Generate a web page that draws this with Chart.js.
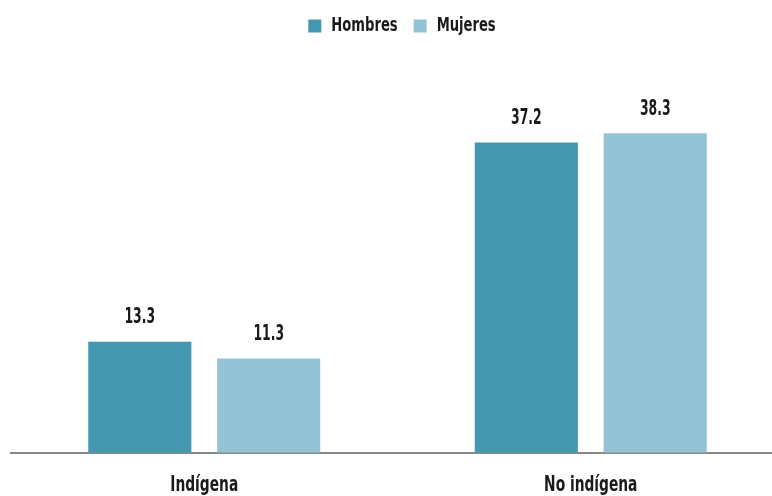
<!DOCTYPE html>
<html>
<head>
<meta charset="utf-8">
<script src="https://cdn.jsdelivr.net/npm/chart.js@4"></script>
<style>
html,body{margin:0;padding:0;background:#fff;overflow:hidden;width:772px;height:496px;}
#wrap{position:absolute;left:0;top:0;width:804px;height:518px;}
</style>
</head>
<body>
<div id="wrap"><canvas id="c" width="804" height="518"></canvas></div>
<script>
const categories = ["Indígena", "No indígena"];
const seriesNames = ["Hombres", "Mujeres"];
const hombres = [13.3, 37.2];
const mujeres = [11.3, 38.3];

const FONT = "'DejaVu Sans Condensed', 'DejaVu Sans', sans-serif";
const SX = 0.73; // horizontal condensing of all text

// condense text horizontally (keeps measurements consistent)
(function () {
  const P = CanvasRenderingContext2D.prototype;
  const of = P.fillText, om = P.measureText;
  P.fillText = function (t, x, y) {
    this.save(); this.translate(x, y); this.scale(SX, 1); of.call(this, t, 0, 0); this.restore();
  };
  P.measureText = function (t) {
    const m = om.call(this, t);
    return {
      width: m.width * SX,
      actualBoundingBoxAscent: m.actualBoundingBoxAscent,
      actualBoundingBoxDescent: m.actualBoundingBoxDescent,
      actualBoundingBoxLeft: m.actualBoundingBoxLeft * SX,
      actualBoundingBoxRight: m.actualBoundingBoxRight * SX,
      fontBoundingBoxAscent: m.fontBoundingBoxAscent,
      fontBoundingBoxDescent: m.fontBoundingBoxDescent
    };
  };
})();

const dataLabels = {
  id: 'dataLabels',
  afterDatasetsDraw(chart) {
    const ctx = chart.ctx;
    ctx.save();
    ctx.fillStyle = '#1a1a1a';
    ctx.font = "bold 21px " + FONT;
    ctx.textAlign = 'center';
    ctx.textBaseline = 'middle';
    chart.data.datasets.forEach((ds, i) => {
      chart.getDatasetMeta(i).data.forEach((bar, j) => {
        ctx.save();
        ctx.translate(bar.x, bar.y - 24);
        ctx.scale(0.9, 1);
        ctx.fillText(ds.data[j].toFixed(1), 0, 0);
        ctx.restore();
      });
    });
    ctx.restore();
  }
};

new Chart(document.getElementById('c'), {
  type: 'bar',
  data: {
    labels: categories,
    datasets: [
      { label: seriesNames[0], data: hombres, backgroundColor: '#4397AF', yAxisID: 'y' },
      { label: seriesNames[1], data: mujeres, backgroundColor: '#94C3D5', yAxisID: 'y' }
    ]
  },
  options: {
    responsive: false,
    animation: false,
    layout: { padding: { top: 0, left: 0, right: 0, bottom: 0 } },
    datasets: { bar: { barPercentage: 0.8, categoryPercentage: 0.667 } },
    plugins: {
      legend: {
        position: 'top',
        labels: {
          boxWidth: 13, boxHeight: 13, padding: 16,
          color: '#1a1a1a',
          font: { family: FONT, size: 20, weight: 'bold' }
        }
      },
      tooltip: { enabled: false }
    },
    scales: {
      x: {
        grid: { display: false, drawTicks: false },
        border: { display: true, color: '#888888', width: 2 },
        ticks: { color: '#1a1a1a', padding: 20, font: { family: FONT, size: 21, weight: 'bold' } }
      },
      y: {
        position: 'left',
        min: 0, max: 48.75,
        display: true,
        grid: { display: false, drawTicks: false },
        border: { display: false },
        ticks: { display: false },
        afterFit(s) { s.width = 11; }
      },
      y2: {
        position: 'right',
        min: 0, max: 48.75,
        display: true,
        grid: { display: false, drawTicks: false },
        border: { display: false },
        ticks: { display: false },
        afterFit(s) { s.width = 20; }
      }
    }
  },
  plugins: [dataLabels]
});
</script>
</body>
</html>
